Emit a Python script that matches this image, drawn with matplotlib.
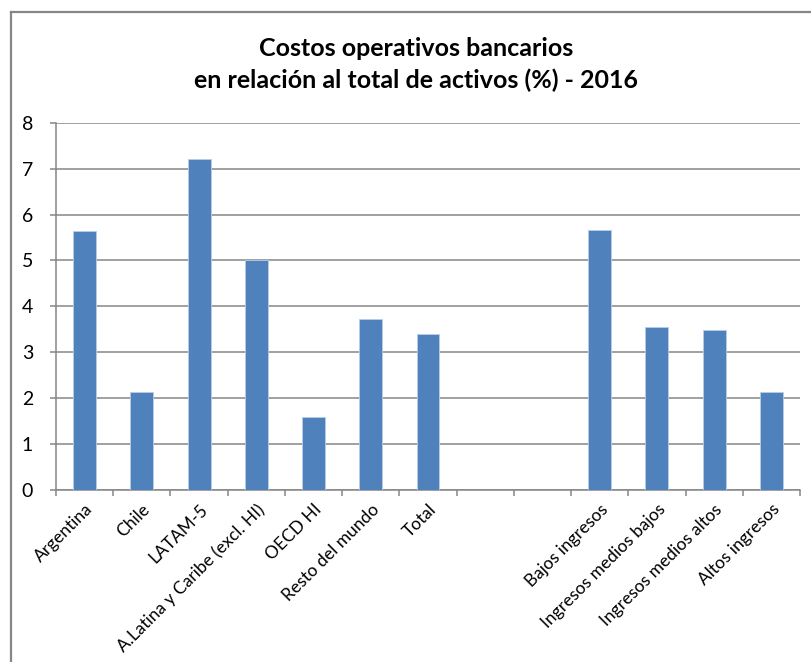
import numpy as np
import matplotlib
matplotlib.use("Agg")
import matplotlib.pyplot as plt
from matplotlib.lines import Line2D

plt.rcParams['font.family'] = ['Lato', 'DejaVu Sans']

categories = ["Argentina", "Chile", "LATAM-5", "A.Latina y Caribe (excl. HI)",
              "OECD HI", "Resto del mundo", "Total", "", "",
              "Bajos ingresos", "Ingresos medios bajos", "Ingresos medios altos",
              "Altos ingresos"]
values = [5.65, 2.14, 7.20, 5.00, 1.58, 3.73, 3.40, np.nan, np.nan,
          5.66, 3.55, 3.48, 2.14]
y_ticks = [0, 1, 2, 3, 4, 5, 6, 7, 8]
title_lines = ["Costos operativos bancarios",
               "en relación al total de activos (%) - 2016"]

W, H = 811, 662
fig = plt.figure(figsize=(W / 100, H / 100), dpi=100)
ax = fig.add_axes([56 / W, 1 - 490 / H, (800 - 56) / W, (490 - 122.7) / H])

grid_col = "#868686"
x = np.arange(len(categories))
ax.bar(x, values, width=0.4, color="#4F81BD", edgecolor="#B9CDE5",
       linewidth=0.6, zorder=3)

ax.set_xlim(-0.5, len(categories) - 0.5)
ax.set_ylim(0, 8)
ax.set_yticks(y_ticks)
ax.set_yticklabels([str(v) for v in y_ticks])
ax.yaxis.grid(True, color=grid_col, linewidth=1.1, zorder=0)

# category boundaries carry the tick marks, centres carry the labels
ax.set_xticks(np.arange(-0.5, len(categories) + 0.5, 1.0))
ax.set_xticklabels([])
ax.set_xticks(x, minor=True)
ax.set_xticklabels(categories, minor=True, rotation=45, ha='right',
                   va='top', rotation_mode='anchor', fontsize=12.5)
ax.tick_params(axis='x', which='minor', length=0, pad=8)
ax.tick_params(axis='x', which='major', length=4.5, width=1.1, color=grid_col,
               direction='out')
ax.tick_params(axis='y', length=4.5, width=1.1, color=grid_col, pad=12,
               labelsize=14)

for side in ('top', 'right'):
    ax.spines[side].set_visible(False)
for side in ('left', 'bottom'):
    ax.spines[side].set_color(grid_col)
    ax.spines[side].set_linewidth(1.1)

for yy, line in zip((48, 80), title_lines):
    fig.text(416 / W, 1 - yy / H, line, ha='center', va='center',
             fontsize=18, fontweight='bold')

# chart frame
fx, fy = 10.5 / W, 1 - 12 / H
fig.add_artist(Line2D([fx, fx], [0, fy], transform=fig.transFigure,
                      color=grid_col, linewidth=1.6))
fig.add_artist(Line2D([fx, 1], [fy, fy], transform=fig.transFigure,
                      color=grid_col, linewidth=1.6))

fig.savefig("out.png", dpi=100)
